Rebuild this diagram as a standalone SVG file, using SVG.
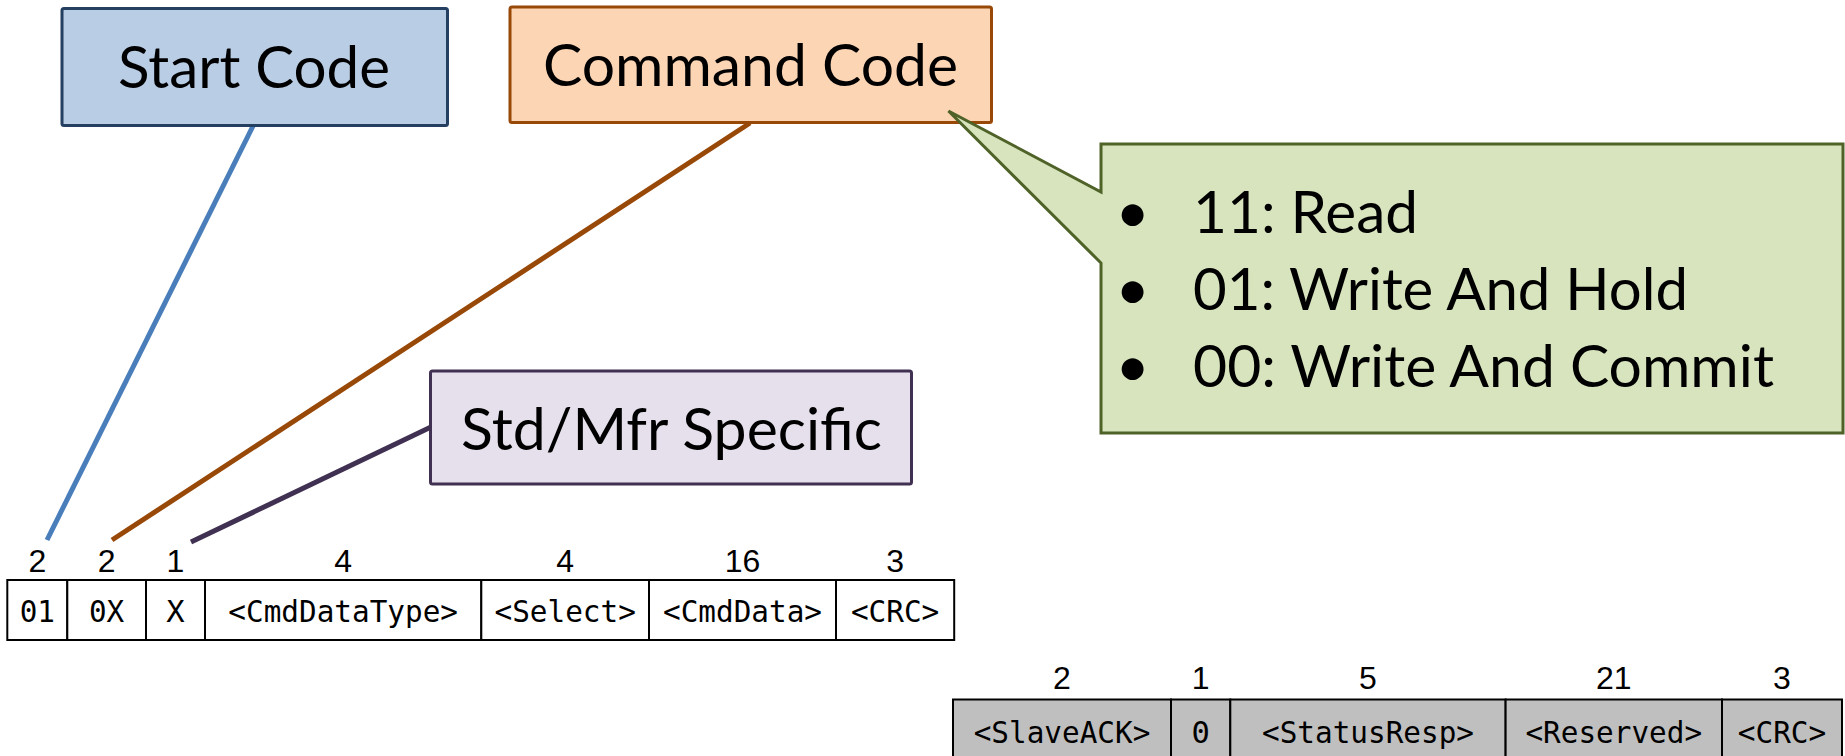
<svg xmlns="http://www.w3.org/2000/svg" width="1845" height="756" viewBox="0 0 1845 756">
<style>
.lbl{font-family:Lato,"Open Sans","Liberation Sans",sans-serif;font-size:59px;fill:#000}
.num{font-family:"Liberation Sans",Arial,sans-serif;font-size:32px;fill:#000;text-anchor:middle}
.cell{font-family:"DejaVu Sans Mono","Liberation Mono",monospace;font-size:30.5px;fill:#000;text-anchor:middle}
.c1{fill:#fff;stroke:#000;stroke-width:2}
.c2{fill:#bfbfbf;stroke:#000;stroke-width:2}
.conn{fill:none;stroke-width:5;stroke-linecap:butt}
</style>
<rect width="1845" height="756" fill="#fff"/>

<g id="connectors">
  <line class="conn" x1="254" y1="124" x2="47" y2="540" stroke="#4A7EBB"/>
  <line class="conn" x1="750" y1="123" x2="112" y2="540" stroke="#984807"/>
  <line class="conn" x1="431" y1="427" x2="191" y2="542" stroke="#403152"/>
</g>

<g id="start-code">
  <rect x="62" y="8.5" width="385.5" height="117" rx="2" fill="#B9CDE5" stroke="#243F60" stroke-width="3"/>
  <text class="lbl" x="118" y="88.3" textLength="272" lengthAdjust="spacingAndGlyphs">Start Code</text>
</g>

<g id="command-code">
  <rect x="510" y="7" width="481.5" height="115.5" rx="2" fill="#FCD5B5" stroke="#984807" stroke-width="3"/>
  <text class="lbl" x="543" y="85.7" textLength="415" lengthAdjust="spacingAndGlyphs">Command Code</text>
</g>

<g id="std-mfr-specific">
  <rect x="430.5" y="371" width="481" height="113" rx="2" fill="#E6E0EC" stroke="#403152" stroke-width="3"/>
  <text class="lbl" x="461" y="450" textLength="421" lengthAdjust="spacingAndGlyphs">Std/Mfr Specific</text>
</g>

<g id="command-callout">
  <path d="M1101,144 L1843,144 L1843,433 L1101,433 L1101,263 L948.5,111 L1101,192 Z" fill="#D7E4BD" stroke="#4F6228" stroke-width="3" stroke-linejoin="miter"/>
  <text class="lbl" x="1132.5" y="233.3" text-anchor="middle">•</text>
  <text class="lbl" x="1193" y="233.3" textLength="225" lengthAdjust="spacingAndGlyphs">11: Read</text>
  <text class="lbl" x="1132.5" y="310" text-anchor="middle">•</text>
  <text class="lbl" x="1193" y="310" textLength="495" lengthAdjust="spacingAndGlyphs">01: Write And Hold</text>
  <text class="lbl" x="1132.5" y="386.7" text-anchor="middle">•</text>
  <text class="lbl" x="1193" y="386.7" textLength="581" lengthAdjust="spacingAndGlyphs">00: Write And Commit</text>
</g>

<g id="command-frame">
  <rect class="c1" x="7.3" y="580" width="60" height="60"/>
  <rect class="c1" x="67.3" y="580" width="78.7" height="60"/>
  <rect class="c1" x="146" y="580" width="59" height="60"/>
  <rect class="c1" x="205" y="580" width="276.3" height="60"/>
  <rect class="c1" x="481.3" y="580" width="167.7" height="60"/>
  <rect class="c1" x="649" y="580" width="187" height="60"/>
  <rect class="c1" x="836" y="580" width="118.2" height="60"/>
  <text class="num" x="37.3" y="571.5">2</text>
  <text class="num" x="106.6" y="571.5">2</text>
  <text class="num" x="175.5" y="571.5">1</text>
  <text class="num" x="343.2" y="571.5">4</text>
  <text class="num" x="565.2" y="571.5">4</text>
  <text class="num" x="742.5" y="571.5">16</text>
  <text class="num" x="895.1" y="571.5">3</text>
  <text class="cell" x="37.3" y="621.5" textLength="35.3" lengthAdjust="spacingAndGlyphs">01</text>
  <text class="cell" x="106.6" y="621.5" textLength="35.3" lengthAdjust="spacingAndGlyphs">0X</text>
  <text class="cell" x="175.5" y="621.5">X</text>
  <text class="cell" x="343.2" y="621.5" textLength="229.7" lengthAdjust="spacingAndGlyphs">&lt;CmdDataType&gt;</text>
  <text class="cell" x="565.2" y="621.5" textLength="141.4" lengthAdjust="spacingAndGlyphs">&lt;Select&gt;</text>
  <text class="cell" x="742.5" y="621.5" textLength="159" lengthAdjust="spacingAndGlyphs">&lt;CmdData&gt;</text>
  <text class="cell" x="895.1" y="621.5" textLength="88.4" lengthAdjust="spacingAndGlyphs">&lt;CRC&gt;</text>
</g>

<g id="response-frame">
  <rect class="c2" x="953" y="699.5" width="218" height="62"/>
  <rect class="c2" x="1171" y="699.5" width="59.3" height="62"/>
  <rect class="c2" x="1230.3" y="699.5" width="275.3" height="62"/>
  <rect class="c2" x="1505.6" y="699.5" width="216.4" height="62"/>
  <rect class="c2" x="1722" y="699.5" width="120" height="62"/>
  <text class="num" x="1062" y="689" font-size="31">2</text>
  <text class="num" x="1200.6" y="689" font-size="31">1</text>
  <text class="num" x="1368" y="689" font-size="31">5</text>
  <text class="num" x="1613.8" y="689" font-size="31">21</text>
  <text class="num" x="1782" y="689" font-size="31">3</text>
  <text class="cell" x="1062" y="742.8" textLength="176.7" lengthAdjust="spacingAndGlyphs">&lt;SlaveACK&gt;</text>
  <text class="cell" x="1200.6" y="742.8">0</text>
  <text class="cell" x="1368" y="742.8" textLength="212" lengthAdjust="spacingAndGlyphs">&lt;StatusResp&gt;</text>
  <text class="cell" x="1613.8" y="742.8" textLength="176.7" lengthAdjust="spacingAndGlyphs">&lt;Reserved&gt;</text>
  <text class="cell" x="1782" y="742.8" textLength="88.4" lengthAdjust="spacingAndGlyphs">&lt;CRC&gt;</text>
</g>
</svg>
